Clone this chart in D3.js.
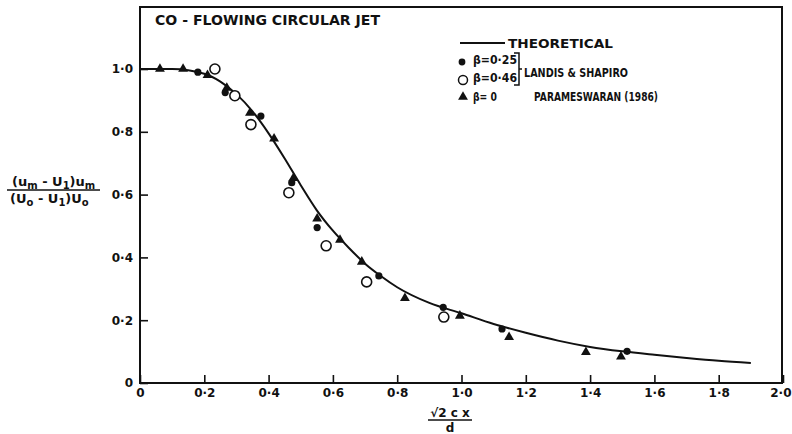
<!DOCTYPE html>
<html>
<head>
<meta charset="utf-8">
<title>Co-flowing circular jet</title>
<script src="https://d3js.org/d3.v7.min.js"></script>
<style>
  body { margin: 0; background: #fff; }
  text { font-family: "DejaVu Sans", sans-serif; font-weight: bold; fill: #111; }
</style>
</head>
<body>
<script>
// theoretical curve
const theoryX = [0, 0.1, 0.2, 0.25, 0.3, 0.35, 0.4, 0.45, 0.5, 0.55, 0.6, 0.65, 0.7, 0.75, 0.8, 0.9, 1.0, 1.1, 1.2, 1.3, 1.4, 1.5, 1.6, 1.7, 1.8, 1.9];
const theoryY = [1.0, 1.0, 0.985, 0.96, 0.92, 0.865, 0.795, 0.715, 0.63, 0.55, 0.485, 0.43, 0.38, 0.34, 0.305, 0.255, 0.222, 0.188, 0.16, 0.135, 0.115, 0.101, 0.09, 0.08, 0.071, 0.064];

// beta = 0.25 (Landis & Shapiro), filled circles
const dotX = [0.18, 0.265, 0.376, 0.472, 0.551, 0.743, 0.943, 1.126, 1.515];
const dotY = [0.99, 0.925, 0.85, 0.638, 0.495, 0.341, 0.241, 0.172, 0.101];

// beta = 0.46 (Landis & Shapiro), open circles
const openX = [0.233, 0.295, 0.345, 0.463, 0.579, 0.705, 0.945];
const openY = [1.0, 0.915, 0.823, 0.606, 0.437, 0.322, 0.21];

// beta = 0 (Parameswaran 1986), triangles
const triX = [0.062, 0.134, 0.21, 0.27, 0.342, 0.417, 0.477, 0.551, 0.622, 0.69, 0.824, 0.995, 1.148, 1.387, 1.496];
const triY = [1.0, 1.0, 0.98, 0.94, 0.86, 0.778, 0.652, 0.523, 0.456, 0.386, 0.27, 0.214, 0.146, 0.098, 0.084];

const xTicks = [0, 0.2, 0.4, 0.6, 0.8, 1.0, 1.2, 1.4, 1.6, 1.8, 2.0];
const yTicks = [0, 0.2, 0.4, 0.6, 0.8, 1.0];

const width = 792, height = 434;
const plotL = 140, plotR = 782, plotT = 7, plotB = 383;

const svg = d3.select("body").append("svg")
  .attr("width", width)
  .attr("height", height);

const x = d3.scaleLinear().domain([0, 2.0]).range([plotL, 783]);
const y = d3.scaleLinear().domain([0, 1.0]).range([plotB, 69]);

const fmt = d => d === 0 ? "0" : d3.format(".1f")(d).replace(".", "\u00b7");

// frame
svg.append("rect")
  .attr("x", plotL).attr("y", plotT)
  .attr("width", plotR - plotL).attr("height", plotB - plotT)
  .attr("fill", "none").attr("stroke", "#111").attr("stroke-width", 2);

// axes, ticks pointing inwards
const gx = svg.append("g")
  .attr("transform", `translate(0,${plotB})`)
  .call(d3.axisBottom(x).tickValues(xTicks).tickSize(-8).tickPadding(5).tickFormat(fmt));
const gy = svg.append("g")
  .attr("transform", `translate(${plotL},0)`)
  .call(d3.axisLeft(y).tickValues(yTicks).tickSize(-8).tickPadding(7).tickFormat(fmt));

[gx, gy].forEach(g => {
  g.select(".domain").remove();
  g.selectAll(".tick line").attr("stroke", "#111").attr("stroke-width", 1.6);
  g.selectAll(".tick text").style("font-size", "12px").attr("fill", "#111");
});
gx.selectAll(".tick text").attr("dy", "0.75em");
// last label sits against the page edge in the original
gx.selectAll(".tick text").filter(d => d === 2.0).attr("text-anchor", "end").attr("x", 8);

// theoretical curve
const pts = theoryX.map((v, i) => [v, theoryY[i]]);
svg.append("path")
  .datum(pts)
  .attr("fill", "none")
  .attr("stroke", "#111")
  .attr("stroke-width", 2)
  .attr("d", d3.line().x(d => x(d[0])).y(d => y(d[1])).curve(d3.curveMonotoneX));

// markers
const tri = d3.symbol().type(d3.symbolTriangle).size(42);

svg.append("g").selectAll("circle")
  .data(openX.map((v, i) => [v, openY[i]]))
  .join("circle")
  .attr("cx", d => x(d[0])).attr("cy", d => y(d[1])).attr("r", 5)
  .attr("fill", "#fff").attr("stroke", "#111").attr("stroke-width", 1.6);

svg.append("g").selectAll("path")
  .data(triX.map((v, i) => [v, triY[i]]))
  .join("path")
  .attr("d", tri)
  .attr("transform", d => `translate(${x(d[0])},${y(d[1])})`)
  .attr("fill", "#111");

svg.append("g").selectAll("circle")
  .data(dotX.map((v, i) => [v, dotY[i]]))
  .join("circle")
  .attr("cx", d => x(d[0])).attr("cy", d => y(d[1])).attr("r", 3.6)
  .attr("fill", "#111");

// title
svg.append("text")
  .attr("x", 155).attr("y", 25)
  .attr("textLength", 225).attr("lengthAdjust", "spacingAndGlyphs")
  .style("font-size", "14px")
  .text("CO - FLOWING CIRCULAR  JET");

// legend
const lg = svg.append("g").style("font-size", "12px");
lg.append("line")
  .attr("x1", 460).attr("x2", 505).attr("y1", 43).attr("y2", 43)
  .attr("stroke", "#111").attr("stroke-width", 2);
lg.append("text").attr("x", 508).attr("y", 48).text("THEORETICAL")
  .style("font-size", "13px")
  .attr("textLength", 105).attr("lengthAdjust", "spacingAndGlyphs");

lg.append("circle").attr("cx", 462).attr("cy", 62).attr("r", 3.4).attr("fill", "#111");
lg.append("text").attr("x", 473).attr("y", 64).text("\u03b2=0\u00b725")
  .attr("textLength", 44).attr("lengthAdjust", "spacingAndGlyphs");

lg.append("circle").attr("cx", 463).attr("cy", 80).attr("r", 4.5)
  .attr("fill", "#fff").attr("stroke", "#111").attr("stroke-width", 1.5);
lg.append("text").attr("x", 473).attr("y", 82).text("\u03b2=0\u00b746")
  .attr("textLength", 44).attr("lengthAdjust", "spacingAndGlyphs");

lg.append("path").attr("d", tri).attr("transform", "translate(463,97)").attr("fill", "#111");
lg.append("text").attr("x", 473).attr("y", 101).text("\u03b2= 0")
  .attr("textLength", 24).attr("lengthAdjust", "spacingAndGlyphs");

lg.append("path")
  .attr("d", "M514,53 H519 V85 H514 M519,69 H522")
  .attr("fill", "none").attr("stroke", "#111").attr("stroke-width", 1.5);
lg.append("text").attr("x", 524).attr("y", 77).text("LANDIS  &  SHAPIRO")
  .attr("textLength", 104).attr("lengthAdjust", "spacingAndGlyphs");
lg.append("text").attr("x", 534).attr("y", 101).text("PARAMESWARAN (1986)")
  .attr("textLength", 124).attr("lengthAdjust", "spacingAndGlyphs");

// y axis label as a fraction
const ylab = svg.append("g").style("font-size", "13px");
const num = ylab.append("text").attr("x", 12).attr("y", 186);
num.append("tspan").text("(u");
num.append("tspan").text("m").attr("dy", 3).style("font-size", "10px");
num.append("tspan").text(" - U").attr("dy", -3);
num.append("tspan").text("1").attr("dy", 3).style("font-size", "10px");
num.append("tspan").text(")u").attr("dy", -3);
num.append("tspan").text("m").attr("dy", 3).style("font-size", "10px");
ylab.append("line").attr("x1", 7).attr("x2", 100).attr("y1", 190).attr("y2", 190)
  .attr("stroke", "#111").attr("stroke-width", 1.5);
const den = ylab.append("text").attr("x", 10).attr("y", 203);
den.append("tspan").text("(U");
den.append("tspan").text("o").attr("dy", 3).style("font-size", "10px");
den.append("tspan").text(" - U").attr("dy", -3);
den.append("tspan").text("1").attr("dy", 3).style("font-size", "10px");
den.append("tspan").text(")U").attr("dy", -3);
den.append("tspan").text("o").attr("dy", 3).style("font-size", "10px");

// x axis label as a fraction
const xlab = svg.append("g").style("font-size", "12px");
xlab.append("text").attr("x", 450).attr("y", 417).attr("text-anchor", "middle").text("\u221a2 c x");
xlab.append("line").attr("x1", 428).attr("x2", 472).attr("y1", 420).attr("y2", 420)
  .attr("stroke", "#111").attr("stroke-width", 1.5);
xlab.append("text").attr("x", 450).attr("y", 432).attr("text-anchor", "middle").text("d");
</script>
</body>
</html>
